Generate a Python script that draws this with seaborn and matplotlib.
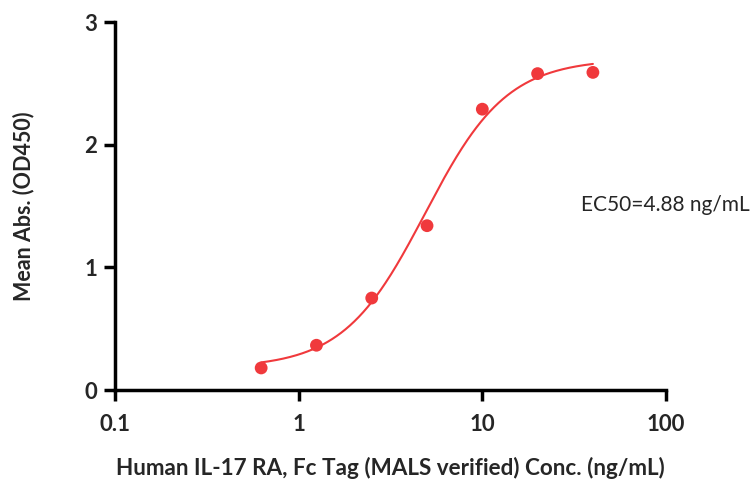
import numpy as np
import pandas as pd
import matplotlib
matplotlib.use("Agg")
import matplotlib.pyplot as plt
import seaborn as sns

# Data
conc = [0.625, 1.25, 2.5, 5, 10, 20, 40]
od450 = [0.18, 0.365, 0.75, 1.34, 2.29, 2.58, 2.59]

# 4-parameter logistic fit parameters
fit_bottom = 0.18
fit_top = 2.70
fit_ec50 = 4.88
fit_hill = 1.95

x_ticks = [0.1, 1, 10, 100]
x_tick_labels = ["0.1", "1", "10", "100"]
y_ticks = [0, 1, 2, 3]

x_label = "Human IL-17 RA, Fc Tag (MALS verified) Conc. (ng/mL)"
y_label = "Mean Abs. (OD450)"
annotation = "EC50=4.88 ng/mL"

sns.set_style("white")
plt.rcParams["font.family"] = ["Lato", "DejaVu Sans"]

red = "#F0393C"

fig = plt.figure(figsize=(7.55, 4.86), dpi=100)
ax = fig.add_axes([0.1523, 0.1975, 0.7298, 0.757])

xf = np.logspace(np.log10(min(conc)), np.log10(max(conc)), 300)
yf = fit_bottom + (fit_top - fit_bottom) / (1 + (fit_ec50 / xf) ** fit_hill)
fit_df = pd.DataFrame({"x": xf, "y": yf})
pts_df = pd.DataFrame({"x": conc, "y": od450})

sns.lineplot(data=fit_df, x="x", y="y", ax=ax, color=red, linewidth=1.5)
sns.scatterplot(data=pts_df, x="x", y="y", ax=ax, color=red, s=85,
                edgecolor="none", zorder=3)

ax.set_xscale("log")
ax.set_xlim(0.1, 100)
ax.set_ylim(0, 3)
ax.set_xticks(x_ticks)
ax.set_xticklabels(x_tick_labels)
ax.xaxis.set_minor_locator(matplotlib.ticker.NullLocator())
ax.set_yticks(y_ticks)
ax.set_yticklabels([str(v) for v in y_ticks])

for s in ["top", "right"]:
    ax.spines[s].set_visible(False)
for s in ["left", "bottom"]:
    ax.spines[s].set_linewidth(2.5)
    ax.spines[s].set_color("black")
    ax.spines[s].set_capstyle("projecting")

ax.tick_params(axis="both", which="major", direction="out", length=8,
               width=2.5, color="black", labelsize=16, pad=5,
               bottom=True, left=True)
ax.tick_params(axis="x", pad=9)
for lab in ax.get_xticklabels() + ax.get_yticklabels():
    lab.set_fontweight("bold")

ax.set_xlabel(x_label, fontsize=16.2, fontweight="bold", labelpad=16)
ax.set_ylabel(y_label, fontsize=15.5, fontweight="bold", labelpad=36)

ax.text(0.845, 0.503, annotation, transform=ax.transAxes, fontsize=15,
        ha="left", va="center", clip_on=False)

ax.grid(False)
fig.savefig("out.png", dpi=100, facecolor="white")
